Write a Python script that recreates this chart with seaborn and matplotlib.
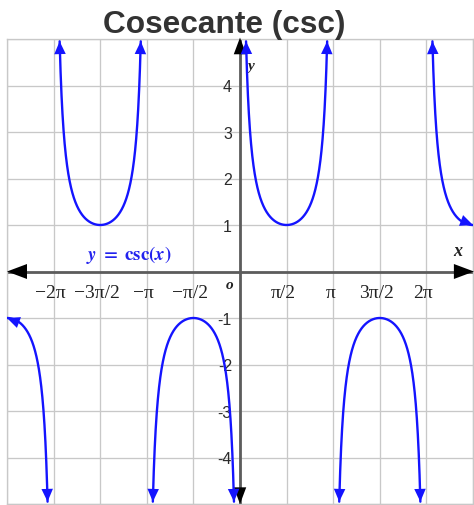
import numpy as np
import pandas as pd
import matplotlib
matplotlib.use("Agg")
import matplotlib.pyplot as plt
import seaborn as sns

# Branches of csc(x) between asymptotes, bounds in multiples of pi
branch_start = [-2.5, -2.0, -1.0, 0.0, 1.0, 2.0]
branch_end = [-2.0, -1.0, 0.0, 1.0, 2.0, 2.5]
y_cap = 4.95  # curves stop (with arrowheads) just inside the window

x_tick_pos = [-2.0, -1.5, -1.0, -0.5, 0.5, 1.0, 1.5, 2.0]  # multiples of pi
x_tick_labels = ["\u22122\u03c0", "\u22123\u03c0/2", "\u2212\u03c0", "\u2212\u03c0/2",
                 "\u03c0/2", "\u03c0", "3\u03c0/2", "2\u03c0"]
y_tick_pos = [4, 3, 2, 1, -1, -2, -3, -4]
y_tick_labels = ["4", "3", "2", "1", "-1", "-2", "-3", "-4"]

title = "Cosecante (csc)"
curve_blue = "#1414ff"

sns.set_style("whitegrid")
plt.rcParams["mathtext.fontset"] = "stix"

# Sample each branch of csc(x)
delta = np.arcsin(1.0 / y_cap)
frames = []
for i, (s, e) in enumerate(zip(branch_start, branch_end)):
    x0 = s * np.pi + (delta if float(s).is_integer() else 0.0)
    x1 = e * np.pi - (delta if float(e).is_integer() else 0.0)
    xs = np.linspace(x0, x1, 600)
    frames.append(pd.DataFrame({"x": xs, "y": 1.0 / np.sin(xs), "branch": i}))
df = pd.concat(frames, ignore_index=True)

fig = plt.figure(figsize=(4.74, 5.06), dpi=100)
ax = fig.add_axes([7 / 474, 1 / 506, 466 / 474, 465 / 506])
ax.set_xlim(-2.5 * np.pi, 2.5 * np.pi)
ax.set_ylim(-5, 5)

# Grid every pi/2 horizontally and every unit vertically
ax.set_xticks(np.arange(-2.5, 2.51, 0.5) * np.pi)
ax.set_yticks(np.arange(-5, 6, 1))
ax.grid(True, color="#c8c8c8", lw=0.95)
ax.tick_params(length=0, labelbottom=False, labelleft=False)
for sp in ax.spines.values():
    sp.set_color("#c8c8c8")
    sp.set_linewidth(0.95)

# Coordinate axes with black arrowheads
ax.axhline(0, color="#5c5c5c", lw=2.0, zorder=2)
ax.axvline(0, color="#5c5c5c", lw=2.0, zorder=2)
xl, xr = ax.get_xlim()
yb, yt = ax.get_ylim()
ax_arrow_x = dict(arrowstyle="-|>,head_length=0.4,head_width=0.15", mutation_scale=36,
                  color="black", lw=0, shrinkA=0, shrinkB=0)
ax_arrow_y = dict(arrowstyle="-|>,head_length=0.4,head_width=0.15", mutation_scale=30,
                  color="black", lw=0, shrinkA=0, shrinkB=0)
ax.annotate("", xy=(xl, 0), xytext=(xl + 0.8, 0), arrowprops=ax_arrow_x,
            annotation_clip=False, zorder=3)
ax.annotate("", xy=(xr + 0.03, 0), xytext=(xr - 0.8, 0), arrowprops=ax_arrow_x,
            annotation_clip=False, zorder=3)
ax.annotate("", xy=(0, yt + 0.03), xytext=(0, yt - 0.5), arrowprops=ax_arrow_y,
            annotation_clip=False, zorder=3)
ax.annotate("", xy=(0, yb), xytext=(0, yb + 0.5), arrowprops=ax_arrow_y,
            annotation_clip=False, zorder=3)

# Tick labels drawn inside the plot, next to the axes
for xp, lab in zip(x_tick_pos, x_tick_labels):
    ax.text(xp * np.pi - 0.1, -0.55, lab, ha="center", va="baseline",
            fontsize=14, family="Liberation Serif", color="#222222", zorder=4)
for yp, lab in zip(y_tick_pos, y_tick_labels):
    ax.text(-0.27, yp - 0.12, lab, ha="right", va="baseline",
            fontsize=11.5, family="Liberation Sans", color="#2a2a2a", zorder=4)

ax.text(-0.34, -0.27, "o", ha="center", va="center", fontsize=11,
        family="Liberation Serif", style="italic", fontweight="bold", color="#222222")
ax.text(0.37, 4.42, "y", ha="center", va="center", fontsize=11,
        family="Liberation Serif", style="italic", fontweight="bold", color="#222222")
ax.text(7.35, 0.46, "x", ha="center", va="center", fontsize=13,
        family="Liberation Serif", style="italic", fontweight="bold", color="#222222")
ax.text(-3.76, 0.38, r"$\mathbfit{y}\ \mathbf{=\ csc(}\mathbfit{x}\mathbf{)}$",
        ha="center", va="center", fontsize=13.5, color="#2222ee", zorder=4)

# The csc(x) branches
sns.lineplot(data=df, x="x", y="y", units="branch", estimator=None, sort=False,
             color=curve_blue, lw=1.7, ax=ax, zorder=5, legend=False)
ax.set_xlabel("")
ax.set_ylabel("")

# Arrowheads on both ends of every branch
head = dict(arrowstyle="-|>,head_length=0.4,head_width=0.18", mutation_scale=23,
            color=curve_blue, lw=0, shrinkA=0, shrinkB=0)
for b, g in df.groupby("branch"):
    pts = g[["x", "y"]].to_numpy()
    disp = ax.transData.transform(pts)
    for end_idx, step in ((0, 1), (len(pts) - 1, -1)):
        j = end_idx
        while 0 <= j + step < len(pts) and np.hypot(*(disp[j] - disp[end_idx])) < 14:
            j += step
        ax.annotate("", xy=tuple(pts[end_idx]), xytext=tuple(pts[j]), arrowprops=head,
                    annotation_clip=False, zorder=6)

fig.text(224 / 474, 1 - 33 / 506, title, ha="center", va="baseline", fontsize=22.8,
         fontweight="bold", family="Liberation Sans", color="#333333")

fig.savefig("out.png", dpi=100)
